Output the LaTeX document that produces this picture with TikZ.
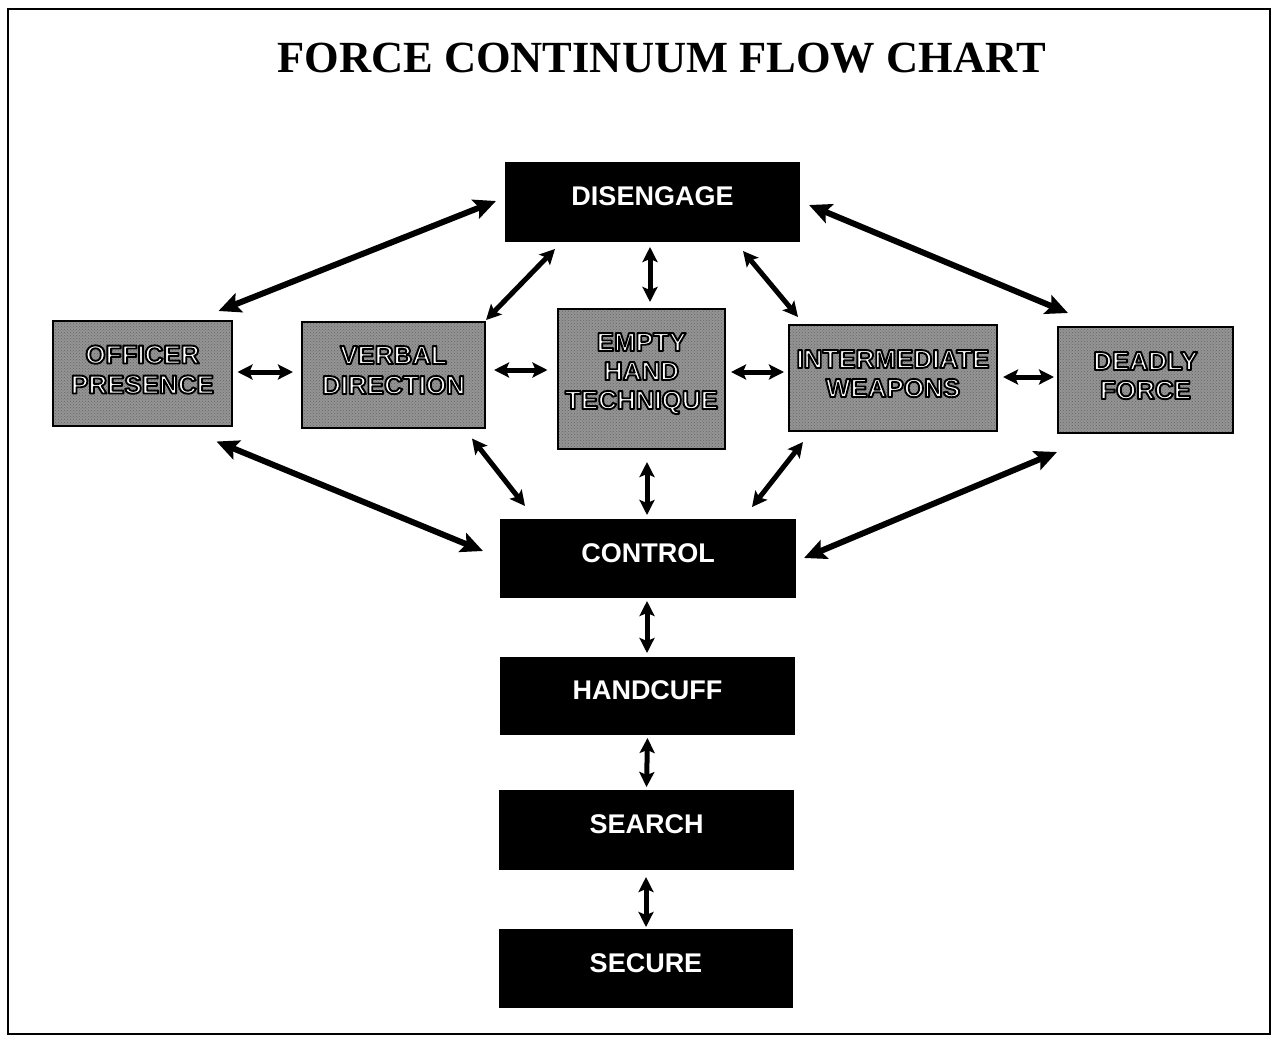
\documentclass[tikz,border=0pt]{standalone}
\usepackage{fontspec}
\setmainfont{Liberation Serif}
\newfontfamily\arialf{Liberation Sans}
\newcommand{\outl}[1]{\special{pdf:literal direct 2 Tr 1.9 w 1 j 0 G}#1\special{pdf:literal direct 0 Tr}}
\usetikzlibrary{arrows.meta,patterns}
\tikzset{
  blackbox/.style={fill=black, inner sep=0pt, outer sep=0pt},
  graybox/.style={draw=black, line width=2.8pt, preaction={fill=black!42},
    pattern=crosshatch dots, pattern color=black!60, inner sep=0pt, outer sep=0pt},
  wlbl/.style={text=white, font=\arialf\bfseries\fontsize{27}{30}\selectfont, inner sep=0pt, anchor=base},
  glbl/.style={text=white, font=\arialf\bfseries\fontsize{26}{29}\selectfont, inner sep=0pt, anchor=base},
  bigarr/.style={line width=6pt, {Stealth[length=22pt,width=20pt,inset=4pt]}-{Stealth[length=22pt,width=20pt,inset=4pt]}},
  smallarr/.style={line width=5pt, {Stealth[length=15pt,width=15pt,inset=3pt]}-{Stealth[length=15pt,width=15pt,inset=3pt]}}
}
\begin{document}
\begin{tikzpicture}[x=1pt,y=-1pt]
\useasboundingbox (0,0) rectangle (1273,1039);
\draw[line width=2.5pt] (8,9) rectangle (1270,1034);
\node[anchor=base, inner sep=0pt, font=\bfseries\fontsize{44.5}{50}\selectfont] (title) at (661.5,72) {FORCE CONTINUUM FLOW CHART};

% black boxes
\node[blackbox, minimum width=295pt, minimum height=80pt] (dis) at (652.5,202) {};
\node[blackbox, minimum width=296pt, minimum height=79pt] (ctl) at (648,558.5) {};
\node[blackbox, minimum width=295pt, minimum height=78pt] (hc) at (647.5,696) {};
\node[blackbox, minimum width=295pt, minimum height=80pt] (sea) at (646.5,830) {};
\node[blackbox, minimum width=294pt, minimum height=79pt] (sec) at (646,968.5) {};
\node[wlbl] (disT) at ([yshift=-3.5pt]dis.center) {DISENGAGE};
\node[wlbl] (ctlT) at ([yshift=-3.5pt]ctl.center) {CONTROL};
\node[wlbl] (hcT) at ([yshift=-3.5pt]hc.center) {HANDCUFF};
\node[wlbl] (seaT) at ([yshift=-3.5pt]sea.center) {SEARCH};
\node[wlbl] (secT) at ([yshift=-3.5pt]sec.center) {SECURE};

% gray boxes
\node[graybox, minimum width=179pt, minimum height=105pt] (off) at (142.5,373.5) {};
\node[graybox, minimum width=183pt, minimum height=106pt] (ver) at (393.5,375) {};
\node[graybox, minimum width=167pt, minimum height=140pt] (emp) at (641.5,379) {};
\node[graybox, minimum width=208pt, minimum height=106pt] (int) at (893,378) {};
\node[graybox, minimum width=175pt, minimum height=106pt] (dea) at (1145.5,380) {};

\node[glbl] (offA) at (142.5,363.5) {\outl{OFFICER}};
\node[glbl] (offB) at (142.5,393.5) {\outl{PRESENCE}};
\node[glbl] (verA) at (393.5,364) {\outl{VERBAL}};
\node[glbl] (verB) at (393.5,394) {\outl{DIRECTION}};
\node[glbl] (empA) at (641.5,351) {\outl{EMPTY}};
\node[glbl] (empB) at (641.5,380) {\outl{HAND}};
\node[glbl] (empC) at (641.5,409) {\outl{TECHNIQUE}};
\node[glbl] (intA) at (893,368) {\outl{INTERMEDIATE}};
\node[glbl] (intB) at (893,397) {\outl{WEAPONS}};
\node[glbl] (deaA) at (1145.5,370) {\outl{DEADLY}};
\node[glbl] (deaB) at (1145.5,399) {\outl{FORCE}};

% long arrows
\draw[bigarr] ([shift={(-9,-1)}]dis.west) -- ([shift={(-13.5,-10)}]off.north east);
\draw[bigarr] ([shift={(9,3)}]dis.east) -- ([shift={(10,-14)}]dea.north west);
\draw[bigarr] ([shift={(-15.5,15.5)}]off.south east) -- ([shift={(-17,-7.5)}]ctl.west);
\draw[bigarr] ([shift={(-1,19)}]dea.south west) -- ([shift={(8,-0.5)}]ctl.east);

% diagonal and vertical short arrows
\draw[smallarr] ([shift={(-97.5,7)}]dis.south) -- ([shift={(1,-2)}]ver.north east);
\draw[smallarr] ([shift={(-2.5,5)}]dis.south) -- ([shift={(8.5,-7)}]emp.north);
\draw[smallarr] ([shift={(90.5,9)}]dis.south) -- ([shift={(9,-8)}]int.north west);
\draw[smallarr] ([shift={(-13,10.5)}]ver.south east) -- ([shift={(-123,-13)}]ctl.north);
\draw[smallarr] ([shift={(5.5,13)}]emp.south) -- ([shift={(-1,-4)}]ctl.north);
\draw[smallarr] ([shift={(14,11)}]int.south west) -- ([shift={(104,-12)}]ctl.north);

% horizontal arrows
\draw[smallarr] ([shift={(5.5,-1.5)}]off.east) -- ([shift={(-9,-3)}]ver.west);
\draw[smallarr] ([shift={(9,-5)}]ver.east) -- ([shift={(-10.5,-9)}]emp.west);
\draw[smallarr] ([shift={(6,-7)}]emp.east) -- ([shift={(-5,-6)}]int.west);
\draw[smallarr] ([shift={(6,-1)}]int.east) -- ([shift={(-4,-3)}]dea.west);

% lower chain
\draw[smallarr] ([shift={(-1,3)}]ctl.south) -- ([shift={(-0.5,-4)}]hc.north);
\draw[smallarr] ([shift={(0,3)}]hc.south) -- ([shift={(0,-3)}]sea.north);
\draw[smallarr] ([shift={(-0.5,7)}]sea.south) -- ([shift={(0,-2)}]sec.north);
\end{tikzpicture}
\end{document}
